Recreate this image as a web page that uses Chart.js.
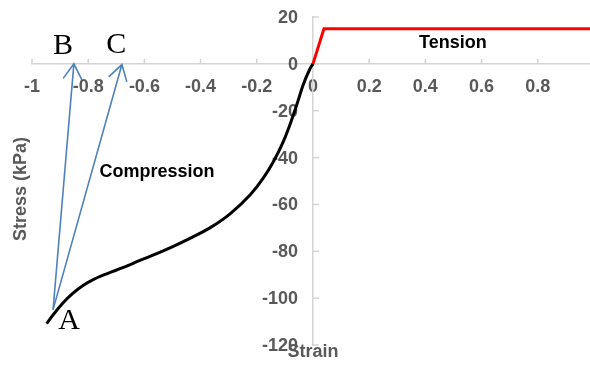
<!DOCTYPE html>
<html>
<head>
<meta charset="utf-8">
<script src="https://cdn.jsdelivr.net/npm/chart.js@4/dist/chart.umd.min.js"></script>
<style>
  html, body { margin: 0; padding: 0; background: #fff; }
  #wrap { width: 590px; height: 369px; }
</style>
</head>
<body>
<div id="wrap"><canvas id="canvas" width="590" height="369"></canvas></div>
<script>
// compression branch (strain, stress kPa)
var compStrain = [-0.948, -0.924, -0.889, -0.853, -0.817, -0.782, -0.734, -0.675, -0.616, -0.556, -0.497, -0.438, -0.367, -0.295, -0.224, -0.177, -0.141, -0.106, -0.082, -0.058, -0.035, -0.011, 0];
var compStress = [-110.9, -107.0, -102.0, -97.8, -94.5, -92.1, -89.6, -86.9, -83.9, -81.0, -77.9, -74.5, -70.0, -64.0, -56.0, -48.8, -41.8, -33.3, -26.0, -17.6, -9.0, -2.2, 0];

// tension branch
var tensStrain = [0, 0.039, 1.0];
var tensStress = [0, 15, 15];

// arrows A -> B, A -> C
var arrowStart = { x: -0.925, y: -104.9 };
var arrowTips = [{ x: -0.851, y: 0 }, { x: -0.680, y: -0.3 }];

// text annotations
var letterLabels = [
    { text: 'A', x: -0.868, y: -110 },
    { text: 'B', x: -0.89, y: 7.7 },
    { text: 'C', x: -0.70, y: 8.2 }
];
var regionLabels = [
    { text: 'Compression', x: -0.555, y: -46.1 },
    { text: 'Tension', x: 0.498, y: 9.0 }
];

var xMin = -1, xMax = 0.986, yMin = -120, yMax = 20;
var axisGray = '#d4d4d4', textGray = '#595959';
var tickFont = { family: 'Liberation Sans, Arial, sans-serif', size: 18, weight: 'bold' };

function toPoints(xs, ys) {
    var pts = [];
    for (var i = 0; i < xs.length; i++) pts.push({ x: xs[i], y: ys[i] });
    return pts;
}

var extrasPlugin = {
    id: 'extras',
    beforeDatasetsDraw: function(chart) {
        var ctx = chart.ctx, xs = chart.scales.x, ys = chart.scales.y;
        var x0 = xs.getPixelForValue(0), y0 = ys.getPixelForValue(0);
        ctx.save();
        ctx.strokeStyle = axisGray;
        ctx.lineWidth = 1.5;
        // tick marks on the inside (x up, y right)
        xs.ticks.forEach(function(t) {
            var px = xs.getPixelForValue(t.value);
            ctx.beginPath(); ctx.moveTo(px, y0); ctx.lineTo(px, y0 - 5); ctx.stroke();
        });
        ys.ticks.forEach(function(t) {
            var py = ys.getPixelForValue(t.value);
            ctx.beginPath(); ctx.moveTo(x0, py); ctx.lineTo(x0 + 6, py); ctx.stroke();
        });
        // y tick labels, right aligned with a gap to the axis
        ctx.fillStyle = textGray;
        ctx.font = 'bold 18px "Liberation Sans", Arial, sans-serif';
        ctx.textAlign = 'right';
        ctx.textBaseline = 'middle';
        ys.ticks.forEach(function(t) {
            ctx.fillText(String(t.value), x0 - 15, ys.getPixelForValue(t.value) + 1);
        });
        ctx.restore();
    },
    afterDraw: function(chart) {
        var ctx = chart.ctx, xs = chart.scales.x, ys = chart.scales.y;
        ctx.save();

        // arrows
        ctx.strokeStyle = '#4f81bd';
        ctx.lineWidth = 1.6;
        var ax = xs.getPixelForValue(arrowStart.x), ay = ys.getPixelForValue(arrowStart.y);
        arrowTips.forEach(function(tip) {
            var tx = xs.getPixelForValue(tip.x), ty = ys.getPixelForValue(tip.y);
            var ang = Math.atan2(ty - ay, tx - ax), head = 18, spread = 0.55;
            ctx.beginPath();
            ctx.moveTo(ax, ay); ctx.lineTo(tx, ty);
            ctx.moveTo(tx - head * Math.cos(ang - spread), ty - head * Math.sin(ang - spread));
            ctx.lineTo(tx, ty);
            ctx.lineTo(tx - head * Math.cos(ang + spread), ty - head * Math.sin(ang + spread));
            ctx.stroke();
        });

        // letters
        ctx.fillStyle = '#000';
        ctx.textAlign = 'center';
        ctx.textBaseline = 'middle';
        ctx.font = '30px "Liberation Serif", "Times New Roman", serif';
        letterLabels.forEach(function(l) {
            ctx.fillText(l.text, xs.getPixelForValue(l.x), ys.getPixelForValue(l.y));
        });

        ctx.font = 'bold 18px "Liberation Sans", Arial, sans-serif';
        regionLabels.forEach(function(l) {
            ctx.fillText(l.text, xs.getPixelForValue(l.x), ys.getPixelForValue(l.y));
        });

        // axis titles
        ctx.fillStyle = textGray;
        ctx.fillText('Strain', xs.getPixelForValue(0), 352);
        ctx.translate(21, 189);
        ctx.rotate(-Math.PI / 2);
        ctx.fillText('Stress (kPa)', 0, 0);
        ctx.restore();
    }
};

var canvasCxt = document.getElementById('canvas').getContext('2d');
var stressChart = new Chart(canvasCxt, {
    type: 'scatter',
    data: {
        datasets: [{
            data: toPoints(compStrain, compStress),
            showLine: true,
            borderColor: '#000',
            borderWidth: 3,
            pointRadius: 0,
            cubicInterpolationMode: 'monotone'
        }, {
            data: toPoints(tensStrain, tensStress),
            showLine: true,
            borderColor: '#ff0000',
            borderWidth: 3,
            pointRadius: 0,
            tension: 0
        }]
    },
    options: {
        responsive: false,
        animation: false,
        layout: { padding: { left: 32, top: 17, right: 0, bottom: 24 } },
        plugins: { legend: { display: false }, tooltip: { enabled: false } },
        scales: {
            x: {
                type: 'linear',
                min: xMin, max: xMax,
                position: { y: 0 },
                afterBuildTicks: function(scale) {
                    scale.ticks = scale.ticks.filter(function(t) { return t.value < 0.9; });
                },
                ticks: {
                    stepSize: 0.2,
                    includeBounds: false,
                    autoSkip: false,
                    maxRotation: 0,
                    padding: 12,
                    color: textGray,
                    font: tickFont,
                    callback: function(v) { return String(+v.toFixed(1)); }
                },
                grid: { display: false, drawTicks: false },
                border: { display: true, color: axisGray, width: 1.5 }
            },
            y: {
                type: 'linear',
                min: yMin, max: yMax,
                position: { x: 0 },
                ticks: {
                    stepSize: 20,
                    display: false,
                    font: tickFont
                },
                grid: { display: false, drawTicks: false },
                border: { display: true, color: axisGray, width: 1.5 }
            }
        }
    },
    plugins: [extrasPlugin]
});
</script>
</body>
</html>
